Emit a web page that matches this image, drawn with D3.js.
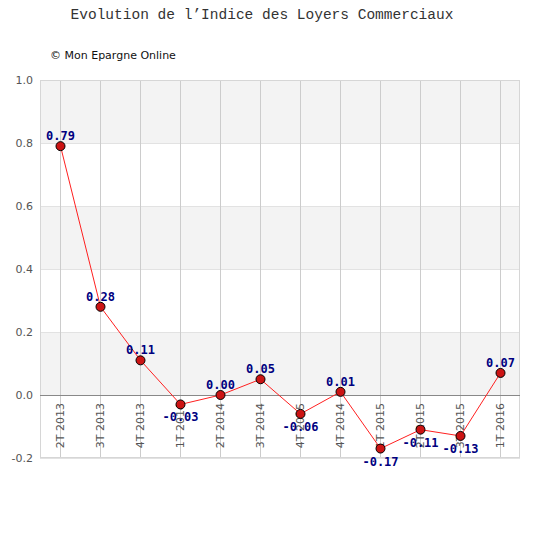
<!DOCTYPE html>
<html>
<head>
<meta charset="utf-8">
<script src="https://cdn.jsdelivr.net/npm/d3@7"></script>
<style>
  body { margin: 0; background: #fff; }
  svg text { font-family: "DejaVu Sans", sans-serif; }
</style>
</head>
<body>
<div id="graf"></div>
<script>
// donnees
const trimestres = ["2T 2013", "3T 2013", "4T 2013", "1T 2014", "2T 2014", "3T 2014",
                    "4T 2015", "4T 2014", "1T 2015", "2T 2015", "3T 2015", "1T 2016"]
const valeurs = [0.79, 0.28, 0.11, -0.03, 0.00, 0.05, -0.06, 0.01, -0.17, -0.11, -0.13, 0.07]
const ticksY = [-0.2, 0.0, 0.2, 0.4, 0.6, 0.8, 1.0]

const anchoTotal = 540
const altoTotal = 550
const margins = { top: 80, right: 20, bottom: 92, left: 40 }
const ancho = anchoTotal - margins.left - margins.right
const alto = altoTotal - margins.top - margins.bottom

const svg = d3.select("#graf").append("svg")
    .attr("width", anchoTotal).attr("height", altoTotal)

// Titulos
svg.append("text").attr("x", 262).attr("y", 19)
    .attr("text-anchor", "middle")
    .style("font-family", "'Liberation Mono', 'DejaVu Sans Mono', monospace")
    .style("font-size", "14.5px").attr("fill", "#333")
    .text("Evolution de l\u2019Indice des Loyers Commerciaux")

svg.append("text").attr("x", 50).attr("y", 59)
    .style("font-size", "11px").attr("fill", "#111")
    .text("\u00a9 Mon Epargne Online")

const g = svg.append("g").attr("transform", `translate(${margins.left}, ${margins.top})`)

const x = d3.scaleBand().domain(trimestres).range([0, ancho])
const y = d3.scaleLinear().domain([-0.2, 1.0]).range([alto, 0])
const cx = (d) => x(d) + x.bandwidth() / 2

// bandes alternees
const bandes = d3.pairs(ticksY)
g.selectAll("rect.bande").data(bandes).enter().append("rect")
    .attr("x", 0).attr("width", ancho)
    .attr("y", d => y(d[1])).attr("height", d => y(d[0]) - y(d[1]))
    .attr("fill", (d, i) => i % 2 === 1 ? "#f3f3f3" : "#fff")

// grille horizontale
g.selectAll("line.h").data(ticksY).enter().append("line")
    .attr("x1", 0).attr("x2", ancho)
    .attr("y1", d => Math.round(y(d)) + 0.5).attr("y2", d => Math.round(y(d)) + 0.5)
    .attr("stroke", d => d === 0 ? "#888" : "#e2e2e2")

// grille verticale
g.selectAll("line.v").data(trimestres).enter().append("line")
    .attr("x1", d => cx(d) + 0.5).attr("x2", d => cx(d) + 0.5)
    .attr("y1", 0).attr("y2", alto)
    .attr("stroke", "#ccc")

// cadre
g.append("rect").attr("x", 0.5).attr("y", 0.5)
    .attr("width", ancho - 1).attr("height", alto - 1)
    .attr("fill", "none").attr("stroke", "#d6d6d6")
g.append("line").attr("x1", 0).attr("x2", ancho)
    .attr("y1", y(0) + 0.5).attr("y2", y(0) + 0.5).attr("stroke", "#888")

// axe Y
g.selectAll("text.ty").data(ticksY).enter().append("text")
    .attr("x", -7).attr("y", d => y(d)).attr("dy", "0.35em")
    .attr("text-anchor", "end")
    .style("font-size", "11px").attr("fill", "#555")
    .text(d => d3.format(".1f")(d).replace("\u2212", "-"))

// etiquettes X
g.selectAll("text.tx").data(trimestres).enter().append("text")
    .attr("transform", d => `translate(${cx(d) + 0.5}, ${y(0) + 8}) rotate(-90)`)
    .attr("text-anchor", "end").attr("dy", "0.35em")
    .style("font-size", "11px").attr("fill", "#555")
    .text(d => d)

// ligne
const linea = d3.line().x((d, i) => cx(trimestres[i]) + 0.5).y(d => y(d))
g.append("path").datum(valeurs)
    .attr("d", linea).attr("fill", "none")
    .attr("stroke", "#ff2020").attr("stroke-width", 1)

// points
g.selectAll("circle.pt").data(valeurs).enter().append("circle")
    .attr("cx", (d, i) => cx(trimestres[i]) + 0.5).attr("cy", d => y(d))
    .attr("r", 4.5)
    .attr("fill", "#cc1414").attr("stroke", "#000").attr("stroke-width", 1)

// valeurs
g.selectAll("text.val").data(valeurs).enter().append("text")
    .attr("x", (d, i) => cx(trimestres[i]) + 0.5)
    .attr("y", d => y(d) + (d < 0 ? 17 : -6))
    .attr("text-anchor", "middle")
    .style("font-family", "'DejaVu Sans Mono', monospace")
    .style("font-size", "12px").style("font-weight", "bold")
    .attr("fill", "#000080")
    .text(d => d3.format(".2f")(d).replace("\u2212", "-"))
</script>
</body>
</html>
